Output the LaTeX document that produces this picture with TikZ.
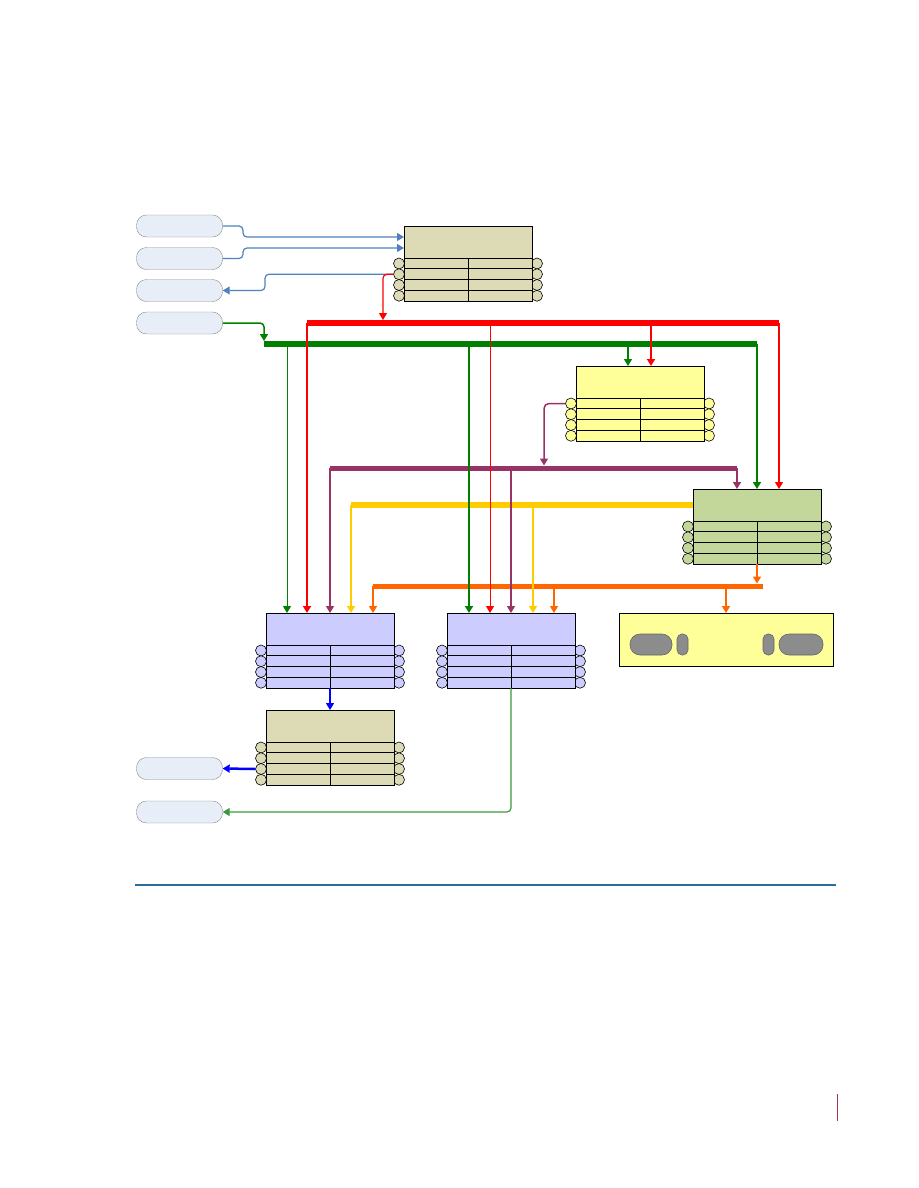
\documentclass[tikz,border=0pt]{standalone}
\usetikzlibrary{arrows.meta}

\definecolor{boxtan}{HTML}{DDDAB6}
\definecolor{boxyellow}{HTML}{FFFF99}
\definecolor{boxgreen}{HTML}{C4D79B}
\definecolor{boxblue}{HTML}{CCCCFF}
\definecolor{pillfill}{HTML}{E8EEF7}
\definecolor{pilldraw}{HTML}{8A8A8A}
\definecolor{linkblue}{HTML}{4F81BD}
\definecolor{busred}{HTML}{FF0000}
\definecolor{busgreen}{HTML}{008000}
\definecolor{buspurple}{HTML}{993366}
\definecolor{busyellow}{HTML}{FFCC00}
\definecolor{busorange}{HTML}{FF6600}
\definecolor{darkblue}{HTML}{0000FF}
\definecolor{retgreen}{HTML}{3A9A3A}
\definecolor{slotgray}{HTML}{8C8C8C}
\definecolor{rulecol}{HTML}{2A6C9C}
\definecolor{markred}{HTML}{A5344B}

\tikzset{
  pill/.style={draw=pilldraw, fill=pillfill, rounded corners=10pt, minimum width=86pt, minimum height=22pt, inner sep=0pt},
  tbl/.style={draw, line width=0.8pt, minimum width=128pt, minimum height=75pt, inner sep=0pt, outer sep=0pt, anchor=north west},
  port/.style={draw, circle, line width=0.6pt, minimum size=11pt, inner sep=0pt},
  link/.style={linkblue, line width=1.2pt, rounded corners=4pt},
  slot/.style={draw=black!60, fill=slotgray, line width=0.6pt}
}

% table block with ports: name, left x, top y, fill
\newcommand{\portbox}[4]{%
  \foreach \k in {1,...,4} {
    \node[port, fill=#4] (#1-l\k) at (#2-5,#3+26.75+10.75*\k) {};
    \node[port, fill=#4] (#1-r\k) at (#2+133,#3+26.75+10.75*\k) {};
  }
  \node[tbl, fill=#4] (#1) at (#2,#3) {};
  \foreach \k in {32,42.75,53.5,64.25} \draw[line width=0.8pt] (#2,#3+\k) -- (#2+128,#3+\k);
  \draw[line width=0.8pt] (#2+64,#3+32) -- (#2+64,#3+75);
}

\begin{document}
\begin{tikzpicture}[x=1pt,y=-1pt,>={Triangle[width=8pt,length=7pt]}]
\useasboundingbox (0,0) rectangle (918,1188);

% the pills on the left
\node[pill] (src1) at (179.5,226) {};
\node[pill] (src2) at (179.5,258.5) {};
\node[pill] (out1) at (179.5,290.5) {};
\node[pill] (src3) at (179.5,323) {};
\node[pill] (out2) at (179.5,768.5) {};
\node[pill] (out3) at (179.5,812) {};

% the blocks
\portbox{boxA}{404}{226}{boxtan}
\portbox{boxB}{576}{366}{boxyellow}
\portbox{boxD}{693}{489}{boxgreen}
\portbox{boxC}{266}{613}{boxblue}
\portbox{boxE}{447}{613}{boxblue}
\portbox{boxG}{266}{710}{boxtan}

% the block with the slots
\node[draw, line width=0.8pt, fill=boxyellow, minimum width=214pt, minimum height=53pt, inner sep=0pt, anchor=north west] (boxF) at (619,613) {};
\draw[slot, rounded corners=10pt] (630,634) rectangle (672,655);
\draw[slot, rounded corners=5pt] (677,634) rectangle (688,655);
\draw[slot, rounded corners=5pt] (763,634) rectangle (774,655);
\draw[slot, rounded corners=10pt] (779,634) rectangle (823,655);

% bus ends
\coordinate (redL) at (307,323);
\coordinate (redR) at (779,323);
\coordinate (greenL) at (264,344);
\coordinate (greenR) at (757,344);
\coordinate (purpleL) at (330,468);
\coordinate (purpleR) at (737,468);
\coordinate (yellowL) at (351,505);
\coordinate (orangeL) at (373,586);
\coordinate (orangeR) at (763,586);
% where the feeds hit the buses
\coordinate (redIn) at (383,320);
\coordinate (greenIn) at (264,341);
\coordinate (purpleIn) at (544,465.5);
\coordinate (orangeIn) at (757,583.5);

% links to the first block
\draw[link,->] (src1.east) -| (243,237) -- (boxA.west |- 0,237);
\draw[link,->] (src2.east) -| (243,248) -- (boxA.west |- 0,248);
\draw[link,->] (boxA-l2.west) -| (265,0 |- out1.east) -- (out1.east);

% the buses
\draw[busred, line width=6pt] (redL) -- (redR);
\draw[busgreen, line width=6pt] (greenL) -- (greenR);
\draw[buspurple, line width=5pt] (purpleL) -- (purpleR);
\draw[busyellow, line width=6pt] (yellowL) -- (boxD.west |- yellowL);
\draw[busorange, line width=5pt] (orangeL) -- (orangeR);

% feeds into the buses
\draw[busred, line width=1.2pt, rounded corners=4pt, ->] (boxA-l2.west) -| (redIn);
\draw[busgreen, line width=1.5pt, rounded corners=4pt, ->] (src3.east) -| (greenIn);
\draw[buspurple, line width=1.5pt, rounded corners=5pt, ->] (boxB-l1.west) -| (purpleIn);
\draw[busorange, line width=1.5pt, ->] (boxD.south) -- (orangeIn);

% drops from the buses
\draw[busred, line width=2pt, ->] (redL) -- (redL |- boxC.north);
\draw[busred, line width=1pt, ->] (490,0 |- redL) -- (490,0 |- boxE.north);
\draw[busred, line width=2pt, ->] (651,0 |- redL) -- (651,0 |- boxB.north);
\draw[busred, line width=1.2pt, ->] (redR) -- (redR |- boxD.north);
\draw[busgreen, line width=1pt, ->] (287,0 |- greenL) -- (287,0 |- boxC.north);
\draw[busgreen, line width=2.5pt, ->] (469,0 |- greenL) -- (469,0 |- boxE.north);
\draw[busgreen, line width=1.2pt, ->] (628,0 |- greenL) -- (628,0 |- boxB.north);
\draw[busgreen, line width=1.5pt, ->] (greenR) -- (greenR |- boxD.north);
\draw[buspurple, line width=1.2pt, ->] (purpleL) -- (purpleL |- boxC.north);
\draw[buspurple, line width=1.2pt, ->] (511,0 |- purpleL) -- (511,0 |- boxE.north);
\draw[buspurple, line width=1.5pt, ->] (purpleR) -- (purpleR |- boxD.north);
\draw[busyellow, line width=2pt, ->] (yellowL) -- (yellowL |- boxC.north);
\draw[busyellow, line width=1.5pt, ->] (533,0 |- yellowL) -- (533,0 |- boxE.north);
\draw[busorange, line width=1.5pt, ->] (orangeL) -- (orangeL |- boxC.north);
\draw[busorange, line width=1.2pt, ->] (554,0 |- orangeL) -- (554,0 |- boxE.north);
\draw[busorange, line width=1.5pt, ->] (726,0 |- orangeL) -- (726,0 |- boxF.north);

% outputs at the bottom
\draw[darkblue, line width=1.2pt, ->] (boxC.south) -- (boxG.north);
\draw[darkblue, line width=2.5pt, ->] (boxG-l3.west) -- (out2.east);
\draw[retgreen, line width=1.2pt, rounded corners=4pt, ->] (boxE.south) |- (out3.east);

% page rule and margin mark
\draw[rulecol, line width=2pt] (135,885) -- (836,885);
\draw[markred, line width=1pt] (837,1094) -- (837,1121);
\end{tikzpicture}
\end{document}
